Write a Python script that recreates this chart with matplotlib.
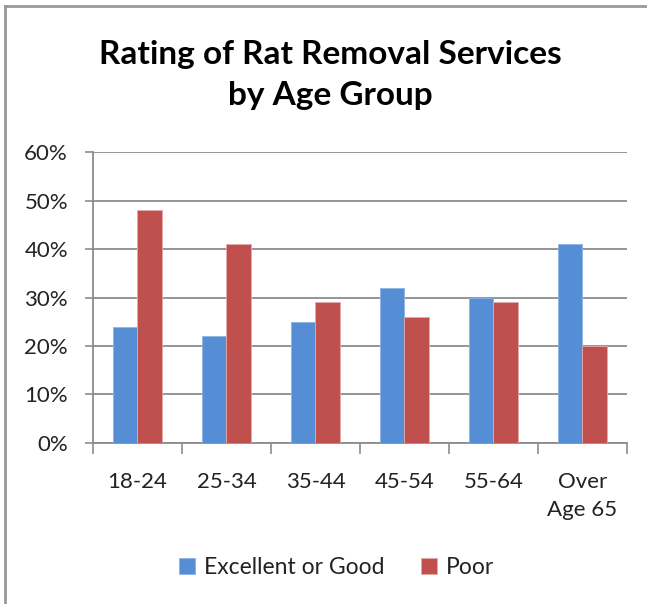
import numpy as np
import matplotlib
matplotlib.use("Agg")
import matplotlib.pyplot as plt
from matplotlib.lines import Line2D

# chart data
age_groups = ['18-24', '25-34', '35-44', '45-54', '55-64', 'Over\nAge 65']
excellent_good = [24, 22, 25, 32, 30, 41]
poor = [48, 41, 29, 26, 29, 20]
y_ticks = [0, 10, 20, 30, 40, 50, 60]

blue = '#558ed5'
red = '#c0504d'
grid_col = '#8c8c8c'

plt.rcParams['font.family'] = ['Lato', 'DejaVu Sans']

fig = plt.figure(figsize=(6.47, 6.04), dpi=100)
ax = fig.add_axes([0.1437, 0.2666, 0.8253, 0.4817])

x = np.arange(len(age_groups))
w = 0.28
ax.bar(x - w / 2, excellent_good, w, color=blue, edgecolor='#8db3e2', linewidth=0.6,
       label='Excellent or Good', zorder=3)
ax.bar(x + w / 2, poor, w, color=red, edgecolor='#e6a9a8', linewidth=0.6,
       label='Poor', zorder=3)

ax.set_xlim(-0.5, len(age_groups) - 0.5)
ax.set_ylim(0, 60)
ax.set_yticks(y_ticks)
ax.set_yticklabels([f'{t}%' for t in y_ticks], fontsize=16, color='#222222')
ax.yaxis.grid(True, color=grid_col, linewidth=1.3, zorder=0)

# category labels in the middle, tick marks at the boundaries
ax.set_xticks(x)
ax.set_xticklabels(age_groups, fontsize=16, color='#222222', linespacing=1.5)
ax.tick_params(axis='x', which='major', length=0, pad=21)
ax.set_xticks(np.arange(len(age_groups) + 1) - 0.5, minor=True)
ax.tick_params(axis='x', which='minor', length=8, width=1.2, color=grid_col)
ax.tick_params(axis='y', length=6, width=1.2, color=grid_col, pad=12)

for side in ['top', 'right']:
    ax.spines[side].set_visible(False)
for side in ['left', 'bottom']:
    ax.spines[side].set_color(grid_col)
    ax.spines[side].set_linewidth(1.3)

fig.text(0.51, 0.876, 'Rating of Rat Removal Services\nby Age Group', ha='center', va='center',
         fontsize=24, fontweight='bold', linespacing=1.5, color='black')

fig.legend(loc='center', bbox_to_anchor=(0.52, 0.061), ncol=2, frameon=False, fontsize=16.5,
           handlelength=0.7, handleheight=0.7, columnspacing=1.6, handletextpad=0.4,
           labelcolor='#222222')

# outer border (top and left only visible)
fig.add_artist(Line2D([0.007, 1.0], [0.99, 0.99], transform=fig.transFigure, color='#999999', linewidth=2))
fig.add_artist(Line2D([0.008, 0.008], [0.0, 0.99], transform=fig.transFigure, color='#999999', linewidth=2))

fig.savefig('out.png', dpi=100)
